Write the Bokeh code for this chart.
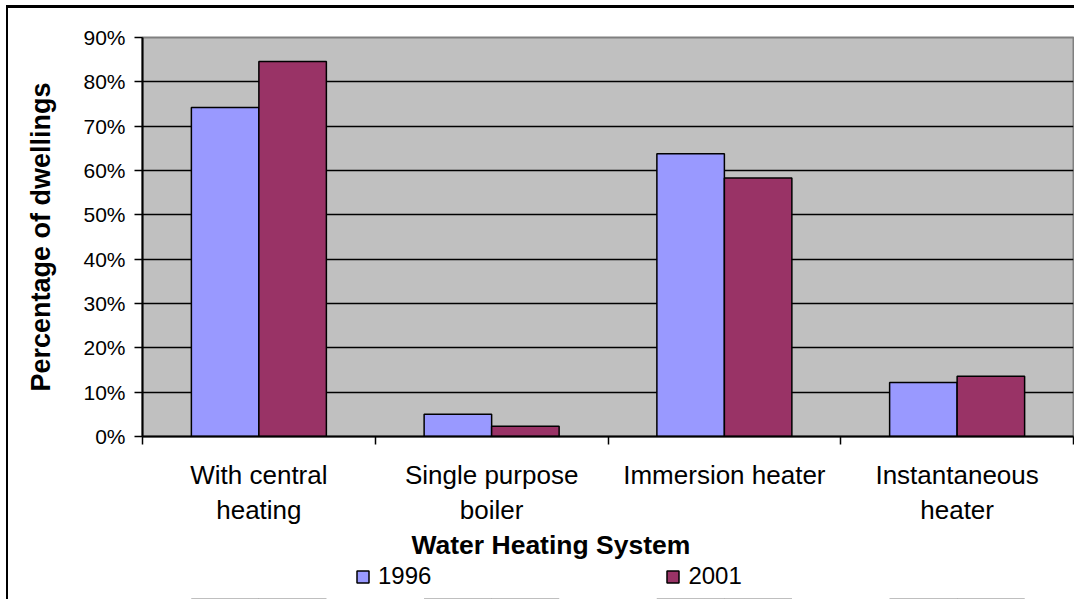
import numpy as np
from bokeh.plotting import figure
from bokeh.layouts import column
from bokeh.models import FixedTicker, Legend, LegendItem, Title
from bokeh.embed import file_html
from bokeh.resources import INLINE

categories = ["With central\nheating", "Single purpose\nboiler", "Immersion heater", "Instantaneous\nheater"]
years = ["1996", "2001"]
values_1996 = [74.2, 5.0, 63.8, 12.2]
values_2001 = [84.6, 2.3, 58.3, 13.6]
y_ticks = [0, 10, 20, 30, 40, 50, 60, 70, 80, 90]
y_tick_labels = ["0%", "10%", "20%", "30%", "40%", "50%", "60%", "70%", "80%", "90%"]
colors = ["#9999FF", "#993366"]
FONT = "Liberation Sans"
BAR_W = 0.29

idx = np.arange(len(categories))
centers = idx + 0.5

p = figure(width=1074, height=562, x_range=(0, len(categories)), y_range=(0, 90),
           output_backend="svg", toolbar_location=None,
           min_border_left=142, min_border_right=1, min_border_top=37, min_border_bottom=126,
           background_fill_color="#C0C0C0", border_fill_color="white", border_fill_alpha=0)
p.styles = {
    "background": "linear-gradient(black, black) 6px 5px / 2px 100% no-repeat, "
                  "linear-gradient(black, black) 6px 5px / 100% 3px no-repeat, white"
}
p.outline_line_color = "#808080"
p.outline_line_width = 2

r1 = p.vbar(x=centers - BAR_W / 2, top=values_1996, width=BAR_W, bottom=0,
            fill_color=colors[0], line_color="black", line_width=1.5)
r2 = p.vbar(x=centers + BAR_W / 2, top=values_2001, width=BAR_W, bottom=0,
            fill_color=colors[1], line_color="black", line_width=1.5)

# grid
p.xgrid.visible = False
p.ygrid.ticker = FixedTicker(ticks=y_ticks[1:-1])
p.ygrid.grid_line_color = "black"
p.ygrid.grid_line_width = 1.5

# y axis
ya = p.yaxis[0]
ya.ticker = FixedTicker(ticks=y_ticks)
ya.major_label_overrides = {t: l for t, l in zip(y_ticks, y_tick_labels)}
ya.major_tick_out = 8
ya.major_tick_in = 0
ya.minor_tick_out = 0
ya.minor_tick_in = 0
ya.axis_line_width = 2
ya.major_tick_line_width = 1.5
ya.major_label_text_font = FONT
ya.major_label_text_font_size = "21px"
ya.major_label_text_color = "black"
ya.major_label_standoff = 9
ya.axis_label = "Percentage of dwellings"
ya.axis_label_text_font = FONT
ya.axis_label_text_font_size = "27px"
ya.axis_label_text_font_style = "bold"
ya.axis_label_text_color = "black"
ya.axis_label_standoff = 24

# x axis
xa = p.xaxis[0]
xa.ticker = FixedTicker(ticks=list(centers), minor_ticks=list(range(len(categories) + 1)))
xa.major_label_overrides = {float(c): lab for c, lab in zip(centers, categories)}
xa.major_tick_out = 0
xa.major_tick_in = 0
xa.minor_tick_out = 8
xa.minor_tick_in = 0
xa.minor_tick_line_color = "black"
xa.minor_tick_line_width = 1.5
xa.axis_line_width = 2
xa.major_label_text_font = FONT
xa.major_label_text_font_size = "26px"
xa.major_label_text_color = "black"
xa.major_label_text_line_height = 1.18
xa.major_label_standoff = 15

title = Title(text="Water Heating System", align="left", offset=269,
              text_font=FONT, text_font_size="26.5px", text_font_style="bold",
              text_color="black", standoff=0)
p.add_layout(title, "below")

# legend strip below the chart (its bars lie outside its visible range)
p2 = figure(width=1074, height=37, x_range=(0, len(categories)), y_range=(200, 201),
            output_backend="svg", toolbar_location=None,
            x_axis_type=None, y_axis_type=None, min_border=0,
            background_fill_alpha=0, border_fill_alpha=0, outline_line_color=None)
p2.grid.visible = False
p2.styles = {"background": "linear-gradient(black, black) 6px 0px / 2px 100% no-repeat, white"}
lr1 = p2.vbar(x=centers - BAR_W / 2, top=values_1996, width=BAR_W, bottom=0,
              fill_color=colors[0], line_color="black", line_width=1.5)
lr2 = p2.vbar(x=centers + BAR_W / 2, top=values_2001, width=BAR_W, bottom=0,
              fill_color=colors[1], line_color="black", line_width=1.5)

legend = Legend(items=[LegendItem(label=years[0], renderers=[lr1]),
                       LegendItem(label=years[1], renderers=[lr2])],
                orientation="horizontal", location=(213, 9), spacing=234,
                glyph_width=15, glyph_height=15, label_standoff=8,
                label_text_font=FONT, label_text_font_size="24px",
                label_text_color="black",
                padding=0, margin=0, border_line_color=None, background_fill_alpha=0)
p2.add_layout(legend, "center")

layout = column(p, p2, spacing=0)
open("out.html", "w").write(file_html(layout, INLINE))
